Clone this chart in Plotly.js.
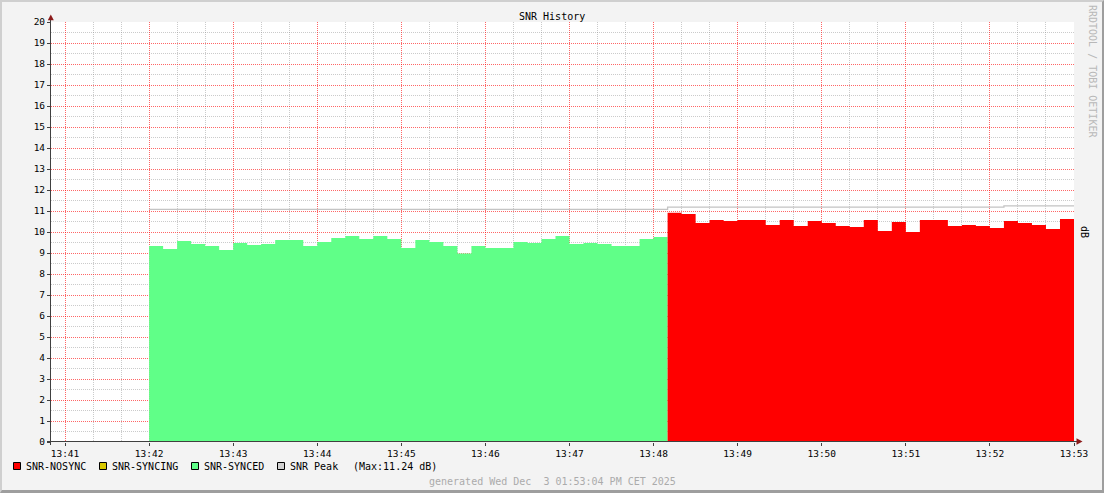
<!DOCTYPE html>
<html>
<head>
<meta charset="utf-8">
<script src="https://cdn.plot.ly/plotly-3.0.1.min.js"></script>
<style>
html,body{margin:0;padding:0;background:#f3f3f3;}
#wrap{position:relative;width:1104px;height:493px;}
#chart{width:1104px;height:493px;}
#frame{position:absolute;left:0;top:0;width:1104px;height:493px;box-sizing:border-box;
 border-top:2px solid #cfcfcf;border-left:2px solid #cfcfcf;border-right:2px solid #9e9e9e;border-bottom:3px solid #9e9e9e;pointer-events:none;}
</style>
</head>
<body>
<div id="wrap"><div id="chart"></div><div id="frame"></div></div>
<script>
// ---- data (10-second RRD steps) ----
const DAY = '2025-12-03';
const START_TIME = '13:42:00';   // first sample
const STEP_SECONDS = 10;
const X_RANGE = ['13:40:50', '13:53:00'];

// SNR-SYNCED (green) samples, dB
const syncedValues = [9.33, 9.19, 9.57, 9.43, 9.33, 9.14, 9.48, 9.38, 9.43, 9.62,
  9.62, 9.33, 9.52, 9.71, 9.81, 9.67, 9.81, 9.67, 9.24,
  9.62, 9.52, 9.33, 8.98, 9.33, 9.24, 9.24, 9.52, 9.48, 9.67,
  9.81, 9.43, 9.48, 9.43, 9.33, 9.33, 9.67, 9.76];
// SNR-NOSYNC (red) samples, dB
const nosyncValues = [10.92, 10.86, 10.43, 10.57, 10.52, 10.57, 10.57, 10.33, 10.57, 10.29,
  10.52, 10.43, 10.29, 10.24, 10.57, 10.05, 10.48, 10.00, 10.57, 10.57,
  10.29, 10.33, 10.29, 10.19, 10.52, 10.43, 10.33, 10.14, 10.62];
// SNR-SYNCING (yellow) — no samples in this window
const syncingValues = [];
// SNR Peak samples, dB
const peakValues = [11.08, 11.08, 11.08, 11.08, 11.08, 11.08, 11.08, 11.08, 11.08, 11.08,
  11.08, 11.08, 11.08, 11.08, 11.08, 11.08, 11.08, 11.08, 11.08, 11.08,
  11.08, 11.08, 11.08, 11.08, 11.08, 11.08, 11.08, 11.08, 11.08, 11.08,
  11.08, 11.08, 11.08, 11.08, 11.08, 11.08, 11.08,
  11.18, 11.18, 11.18, 11.18, 11.18, 11.18, 11.18, 11.18, 11.18, 11.18,
  11.18, 11.18, 11.18, 11.18, 11.18, 11.18, 11.18, 11.18, 11.18, 11.18,
  11.18, 11.18, 11.18, 11.18,
  11.24, 11.24, 11.24, 11.24, 11.24];
const peakMax = 11.24;

const legendLabels = ['SNR-NOSYNC', 'SNR-SYNCING', 'SNR-SYNCED', 'SNR Peak'];
const titleText = 'SNR History';
const unitLabel = 'dB';
const watermark = 'RRDTOOL / TOBI OETIKER';
const footer = 'generated Wed Dec \u00a03 01:53:04 PM CET 2025';

// ---- helpers ----
function toSec(hms){const p=hms.split(':').map(Number);return p[0]*3600+p[1]*60+(p[2]||0);}
function fmt(sec){const h=Math.floor(sec/3600),m=Math.floor(sec%3600/60),s=sec%60;
  const z=n=>String(n).padStart(2,'0');return DAY+' '+z(h)+':'+z(m)+':'+z(s);}
const t0 = toSec(START_TIME);
const nAll = syncedValues.length + nosyncValues.length;
const times = [];
for(let i=0;i<=nAll;i++) times.push(fmt(t0 + i*STEP_SECONDS));

const greenX = times.slice(0, syncedValues.length+1);
const greenY = syncedValues.concat([syncedValues[syncedValues.length-1]]);
const redX = times.slice(syncedValues.length, nAll+1);
const redY = nosyncValues.concat([nosyncValues[nosyncValues.length-1]]);
const peakX = times.slice(0, peakValues.length+1);
const peakY = peakValues.concat([peakValues[peakValues.length-1]]);

// minor grid positions (every 20 s / 0.5 dB, skipping the major ones)
const minorX = [];
for(let s=toSec(X_RANGE[0]); s<=toSec(X_RANGE[1]); s+=10){ if(s%20===0 && s%60!==0) minorX.push(fmt(s)); }
const minorY = [];
for(let v=0.5; v<20; v+=1) minorY.push(v);

const COL = {red:'#ff0000', yellow:'#d8c800', green:'#60ff88', peak:'#c4c4c4', peakBox:'#d0d0d0'};
const FONT = 'DejaVu Sans Mono, monospace';

// plot geometry (pixels) for placing page furniture
const L=51, R=1074, T=22, B=442;
const px = x => (x-L)/(R-L);
const py = y => (B-y)/(B-T);

const traces = [
  {x:greenX, y:greenY, type:'scatter', mode:'lines', line:{shape:'hv', width:0, color:COL.green},
   fill:'tozeroy', fillcolor:COL.green, name:legendLabels[2], showlegend:false},
  {x:redX, y:redY, type:'scatter', mode:'lines', line:{shape:'hv', width:0, color:COL.red},
   fill:'tozeroy', fillcolor:COL.red, name:legendLabels[0], showlegend:false},
  {x:[], y:syncingValues, type:'scatter', mode:'lines', name:legendLabels[1], showlegend:false},
  {x:peakX, y:peakY, type:'scatter', mode:'lines', line:{shape:'hv', width:1.3, color:COL.peak},
   name:legendLabels[3], showlegend:false},
  {x:[], y:[], type:'scatter', mode:'lines', xaxis:'x2', yaxis:'y2', showlegend:false}
];

const axisCol = '#404040', arrowCol = '#8b1a1a';
const shapes = [
  {type:'line', xref:'paper', yref:'paper', x0:px(50.5), x1:px(50.5), y0:py(445), y1:py(19), line:{color:axisCol, width:1}},
  {type:'line', xref:'paper', yref:'paper', x0:px(47), x1:px(1078), y0:py(441.5), y1:py(441.5), line:{color:axisCol, width:1}},
  {type:'path', xref:'paper', yref:'paper', fillcolor:arrowCol, line:{width:0},
   path:`M ${px(47.8)} ${py(20.2)} L ${px(53.8)} ${py(20.2)} L ${px(50.8)} ${py(14.5)} Z`},
  {type:'path', xref:'paper', yref:'paper', fillcolor:arrowCol, line:{width:0},
   path:`M ${px(1076.5)} ${py(438.3)} L ${px(1076.5)} ${py(444.7)} L ${px(1082.5)} ${py(441.5)} Z`}
];
const boxes = [[13.5, COL.red],[99.5, COL.yellow],[191.5, COL.green],[277.5, COL.peakBox]];
boxes.forEach(b=>shapes.push({type:'rect', xref:'paper', yref:'paper',
  x0:px(b[0]), x1:px(b[0]+7), y0:py(462.5), y1:py(469.5), fillcolor:b[1], line:{color:'#000', width:1}}));

function ann(text,x,y,opt){return Object.assign({text:text, xref:'paper', yref:'paper', x:px(x), y:py(y),
  showarrow:false, xanchor:'left', yanchor:'middle', font:{family:FONT, size:10, color:'#000'}}, opt||{});}
const annotations = [
  ann(titleText, 552, 16, {xanchor:'center'}),
  ann(watermark, 1093, 71, {xanchor:'center', textangle:90, font:{family:FONT, size:10, color:'#b8b8b8'}}),
  ann(unitLabel, 1085, 232, {xanchor:'center', textangle:90}),
  ann(footer, 552, 481, {xanchor:'center', font:{family:FONT, size:10, color:'#ababab'}}),
  ann(legendLabels[0], 24, 466),
  ann(legendLabels[1], 110, 466),
  ann(legendLabels[2], 202, 466),
  ann(legendLabels[3], 288, 466),
  ann('(Max:' + peakMax.toFixed(2) + ' dB)', 351, 466)
];

const majorGrid = 'rgba(255,0,0,0.6)';
const minorGrid = 'rgba(140,140,140,0.45)';
const xr = [DAY+' '+X_RANGE[0], DAY+' '+X_RANGE[1]];
const layout = {
  width:1104, height:493,
  margin:{l:L, r:1104-R, t:T, b:493-B, pad:0},
  paper_bgcolor:'#f3f3f3', plot_bgcolor:'#ffffff',
  showlegend:false,
  font:{family:FONT, size:10, color:'#000'},
  xaxis:{type:'date', range:xr, tickmode:'array', tickvals:minorX,
    showticklabels:false, ticks:'',
    showgrid:true, gridcolor:minorGrid, griddash:'1px,1px', gridwidth:1,
    showline:false, zeroline:false, fixedrange:true},
  yaxis:{range:[0,20], tickmode:'array', tickvals:minorY, showticklabels:false, ticks:'',
    showgrid:true, gridcolor:minorGrid, griddash:'1px,1px', gridwidth:1,
    showline:false, zeroline:false, fixedrange:true},
  xaxis2:{type:'date', overlaying:'x', side:'bottom', anchor:'y2', range:xr,
    tick0:DAY+' 13:41:00', dtick:60000, tickformat:'%H:%M',
    tickfont:{family:FONT, size:9.5, color:'#000'},
    ticks:'outside', ticklen:3, tickcolor:axisCol,
    showgrid:true, gridcolor:majorGrid, griddash:'1px,1px', gridwidth:1,
    showline:false, zeroline:false, fixedrange:true},
  yaxis2:{overlaying:'y', side:'left', anchor:'x2', range:[0,20], tick0:0, dtick:1,
    tickfont:{family:FONT, size:9.5, color:'#000'},
    ticks:'outside', ticklen:3, tickcolor:axisCol,
    showgrid:true, gridcolor:majorGrid, griddash:'1px,1px', gridwidth:1,
    showline:false, zeroline:false, fixedrange:true},
  shapes:shapes,
  annotations:annotations
};

Plotly.newPlot('chart', traces, layout, {displayModeBar:false, staticPlot:true});
</script>
</body>
</html>
